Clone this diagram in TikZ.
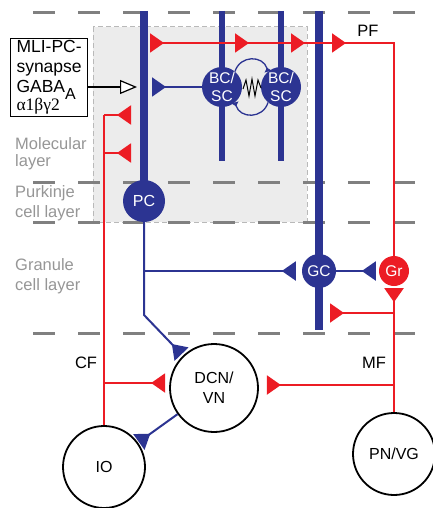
\documentclass[tikz,border=0pt]{standalone}
\usepackage{fontspec}
\setmainfont{Liberation Sans}
\newfontfamily\grkfont{Liberation Serif}
\usetikzlibrary{arrows.meta,calc}
\definecolor{nblue}{RGB}{44,52,146}
\definecolor{nred}{RGB}{236,28,36}
\definecolor{lgray}{RGB}{128,128,128}
\definecolor{tgray}{RGB}{150,150,150}
\definecolor{boxgray}{RGB}{236,236,236}
\definecolor{boxline}{RGB}{185,185,185}
\begin{document}
\begin{tikzpicture}[x=1pt,y=-1pt,
  layerline/.style={line width=3pt, lgray, dash pattern=on 22pt off 23pt},
  dend/.style={line width=7.5pt, nblue},
  thinden/.style={line width=6pt, nblue},
  bl/.style={line width=2pt, nblue},
  rd/.style={line width=2pt, nred},
  syn/.style={-{Triangle[reversed,length=14pt,width=19pt]}},
  bcell/.style={circle, fill=nblue, text=white, inner sep=0pt, align=center, font=\fontsize{15.5}{17.5}\selectfont},
  ocell/.style={circle, draw=black, line width=1.8pt, fill=white, inner sep=0pt, align=center, font=\fontsize{16}{20}\selectfont},
  lbl/.style={font=\fontsize{16.5}{19}\selectfont, text=tgray, anchor=base west, inner sep=0pt},
  blk/.style={font=\fontsize{16.5}{19}\selectfont, inner sep=0pt}
]
\useasboundingbox (0,0) rectangle (433,508);
% molecular-layer region
\fill[boxgray] (93,27) rectangle (307,222);
\draw[boxline, line width=1pt, dash pattern=on 5pt off 3pt] (93,27) rectangle (307,222);
% layer borders
\foreach \yy in {13,182,222,333} \draw[layerline] (33,\yy) -- (433,\yy);
% dendrites
\draw[dend] (144,11) -- (144,201);
\draw[thinden] (222,11) -- (222,161);
\draw[thinden] (281,11) -- (281,161);
\draw[dend] (319,11) -- (319,330);
% cells
\node[bcell, minimum size=42pt, font=\fontsize{16}{17}\selectfont] (PC) at (144,201) {PC};
\node[bcell, minimum size=40pt] (BC1) at (222,87) {BC/\\SC};
\node[bcell, minimum size=40pt] (BC2) at (281,87) {BC/\\SC};
\node[bcell, minimum size=34pt] (GC) at (319,271) {GC};
\node[bcell, fill=nred, minimum size=30pt] (Gr) at (394,271) {Gr};
\node[ocell, minimum size=88pt] (DCN) at (214,388) {DCN/\\VN};
\node[ocell, minimum size=82pt] (IO) at (104,467) {IO};
\node[ocell, minimum size=82pt] (PNVG) at (394,454) {PN/VG};
% BC/SC mutual connections and gap junction
\draw[nblue, line width=1.3pt, -{Triangle[reversed,length=4pt,width=7pt]}] (BC1.50) .. controls (240,55) and (263,55) .. (BC2.130);
\draw[nblue, line width=1.3pt, -{Triangle[reversed,length=4pt,width=7pt]}] (BC2.230) .. controls (263,119) and (240,119) .. (BC1.310);
\draw[black, line width=1pt] (243,89) -- (246,80) -- (249,96) -- (252,79) -- (255,96) -- (258,80) -- (261,88);
% MLI-PC synapse box
\node[draw, line width=1.2pt, anchor=north west, align=left, inner xsep=4pt, inner ysep=2pt, minimum width=77pt, font=\fontsize{17.5}{20}\selectfont] (box) at (10,38)
  {MLI-PC-\\synapse\\GABA\raisebox{-7pt}{\fontsize{16}{16}\selectfont A}\\[-2pt]{\grkfont α1βγ2}};
\coordinate (pcd) at (144,87);
\draw[line width=1.2pt, -{Triangle[length=17pt,width=14pt,fill=white]}, shorten >=7pt] (box.east |- pcd) -- (pcd);
\draw[bl, syn, shorten >=8pt] (BC1) -- (pcd);
% parallel fibre
\coordinate (pfc) at (394,43);
\coordinate (pcpf) at (144,43);
\coordinate (d1) at (222,43);
\coordinate (d2) at (281,43);
\coordinate (d3) at (319,43);
\draw[rd, syn, shorten >=6pt] (Gr) -- (pfc) -- (pcpf);
\draw[rd, syn, shorten >=13pt] ($(d1)+(40,0)$) -- (d1);
\draw[rd, syn, shorten >=10pt] ($(d2)+(30,0)$) -- (d2);
\draw[rd, syn, shorten >=13pt] ($(d3)+(40,0)$) -- (d3);
\node[blk] (PF) at (368,31) {PF};
% climbing fibre
\coordinate (cf1) at (104,115);
\coordinate (cf2) at (104,153);
\coordinate (cf3) at (104,383);
\coordinate (pc1) at (144,115);
\coordinate (pc2) at (144,153);
\draw[rd] (IO) -- (cf1);
\draw[rd, syn, shorten >=13pt] (cf1) -- (pc1);
\draw[rd, syn, shorten >=13pt] (cf2) -- (pc2);
\draw[rd, syn, shorten >=4pt] (cf3) -- (cf3 -| DCN.west);
\node[blk] (CF) at (86,363) {CF};
% mossy fibre
\coordinate (mf1) at (394,313);
\coordinate (mf2) at (394,385);
\coordinate (gc1) at (319,313);
\draw[rd, syn, shorten >=2pt] (PNVG) -- (Gr);
\draw[rd, syn, shorten >=11pt] (mf1) -- (gc1);
\draw[rd, syn, shorten >=8pt] (mf2) -- (mf2 -| DCN.east);
\node[blk] (MF) at (374,363) {MF};
% Purkinje cell axon, Golgi cell, nuclei
\coordinate (pcb1) at (144,271);
\coordinate (pcb2) at (144,315);
\draw[bl, syn, shorten >=2pt] (PC) -- (pcb2) -- (DCN);
\draw[bl, syn, shorten >=6pt] (pcb1) -- (GC);
\draw[bl, syn, shorten >=3pt] (GC) -- (Gr);
\draw[bl, syn, shorten >=1pt] (DCN) -- (IO);
% layer labels
\node[lbl] (mol1) at (15,149) {Molecular};
\node[lbl] (mol2) at (15,166) {layer};
\node[lbl] (pur1) at (15,197) {Purkinje};
\node[lbl] (pur2) at (15,217) {cell layer};
\node[lbl] (gra1) at (15,270) {Granule};
\node[lbl] (gra2) at (15,290) {cell layer};
\end{tikzpicture}
\end{document}
